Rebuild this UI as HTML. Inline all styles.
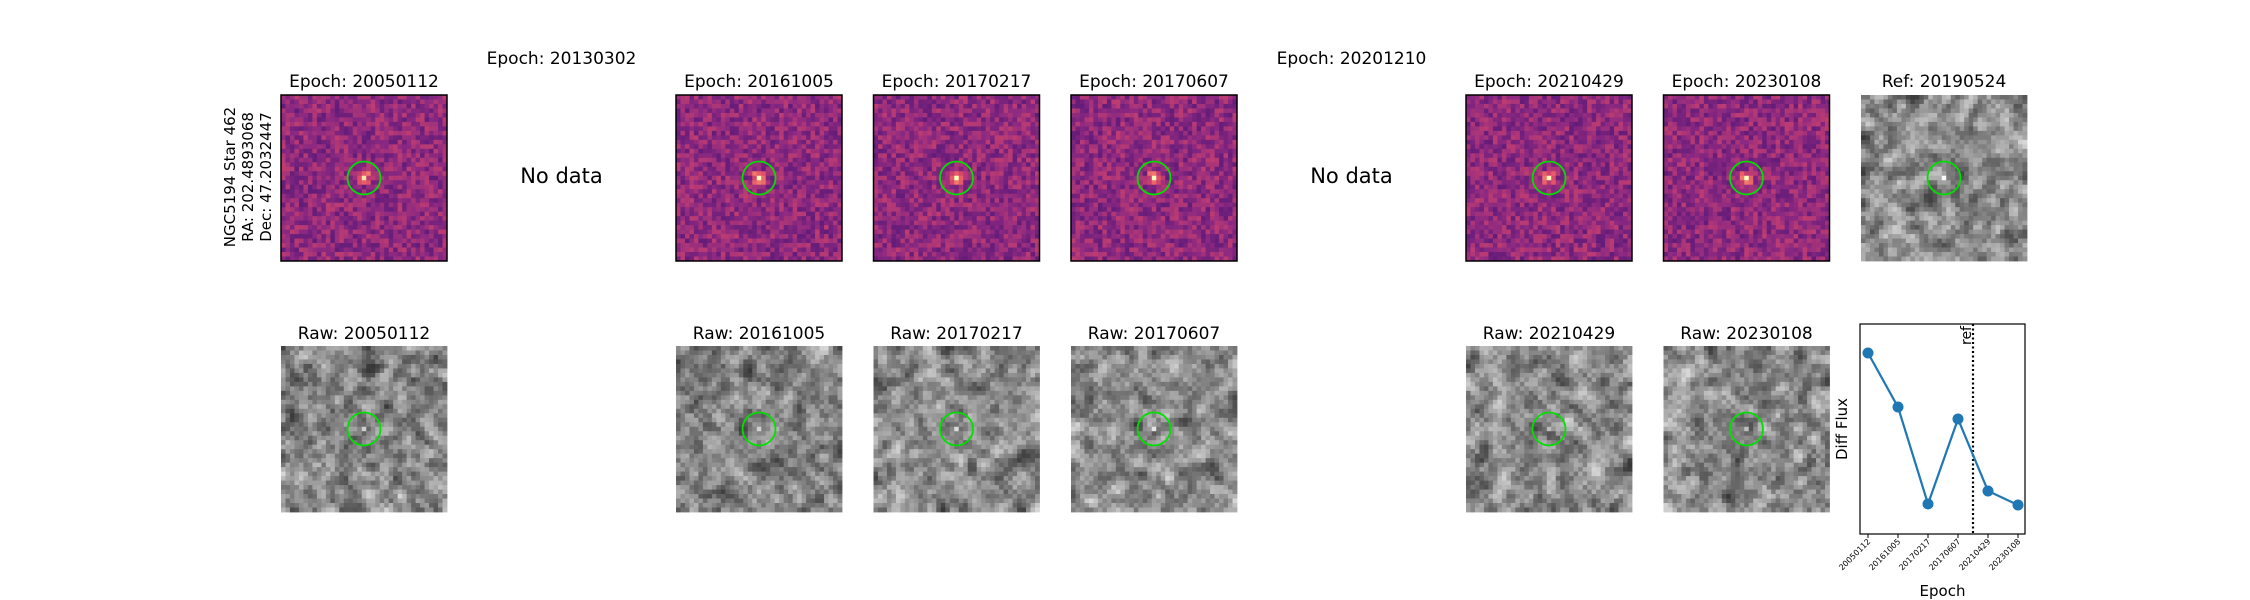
<!DOCTYPE html>
<html><head><meta charset="utf-8"><style>
body{margin:0;background:#fff;}
svg{display:block;font-family:"DejaVu Sans","Liberation Sans",sans-serif;}
</style></head><body>
<svg id="fig" width="2250" height="600" viewBox="0 0 2250 600" xmlns="http://www.w3.org/2000/svg">
<g id="left-label" font-size="15" fill="#000" text-anchor="middle">
<text transform="translate(235,177) rotate(-90)">NGC5194 Star 462</text>
<text transform="translate(253,177) rotate(-90)">RA: 202.4893068</text>
<text transform="translate(271,177) rotate(-90)">Dec: 47.2032447</text>
</g>
<g id="panels"></g>
<g id="chart"></g>
</svg>
<script>
const epochs=["20050112","20161005","20170217","20170607","20210429","20230108"];
const diffFlux=[1.0,0.642,0.0,0.563,0.086,-0.007];
const refIndex=3.5;
const yTickLabels=[];

const NS="http://www.w3.org/2000/svg";
function mk(t,a,p){const e=document.createElementNS(NS,t);for(const k in a)e.setAttribute(k,a[k]);p.appendChild(e);return e;}
let seed=12345;function rnd(){seed=(seed*1103515245+12345)%2147483648;return seed/2147483648;}
const N=37,S=166;
function norm(f){let mn=Math.min(...f),mx=Math.max(...f);return f.map(v=>(v-mn)/(mx-mn));}
function field(blur){let f=[];for(let i=0;i<N*N;i++)f.push(rnd());const raw=f.slice();for(let b=0;b<blur;b++){const g=[];for(let y=0;y<N;y++)for(let x=0;x<N;x++){let s=0,c=0;for(let dy=-1;dy<=1;dy++)for(let dx=-1;dx<=1;dx++){const yy=y+dy,xx=x+dx;if(yy>=0&&yy<N&&xx>=0&&xx<N){s+=f[yy*N+xx];c++;}}g.push(s/c);}f=g;}
if(blur>0){f=norm(f);f=f.map((v,i)=>0.7*v+0.3*raw[i]);}
return norm(f);}
const magma=[[0,0,4],[59,15,112],[140,41,129],[222,73,104],[254,159,109],[252,253,191]];
function cmap(v){v=Math.max(0,Math.min(1,v))*(magma.length-1);const i=Math.min(Math.floor(v),magma.length-2),t=v-i;const a=magma[i],b=magma[i+1];return `rgb(${a.map((c,k)=>Math.round(c+(b[k]-c)*t)).join(',')})`;}
const panels=document.getElementById('panels');
function image(x,y,kind,name){
  const g=mk('g',{},panels);
  
  
  const f=kind==='mag'?field(0):field(1);
  const px=S/N;
  for(let j=0;j<N;j++)for(let i=0;i<N;i++){
    let v=f[j*N+i];const d=Math.hypot(i-18,j-18);
    let col;
    if(kind==='mag'){v=0.3+0.22*v+(d<1?0.6:d<2?0.2:0);col=cmap(v);}
    else{let gv=55+v*160+(d<1?80:0);gv=Math.min(255,Math.round(gv));col=`rgb(${gv},${gv},${gv})`;}
    mk('rect',{x:(x+i*px).toFixed(2),y:(y+j*px).toFixed(2),width:(px+0.4).toFixed(2),height:(px+0.4).toFixed(2),fill:col},g);
  }
  if(kind==='mag')mk('rect',{x:x,y:y,width:S,height:S,fill:'none',stroke:'#000','stroke-width':1.5},g);
  const c=mk('circle',{cx:x+S/2,cy:y+S/2,r:16.5,fill:'none',stroke:'#00e000','stroke-width':1.8},g);
  
  
}
function title(x,y,txt,size,name){const t=mk('text',{x:x,y:y,'font-size':size,'text-anchor':'middle'},panels);t.textContent=txt;
  
  }
const cols=[{t:"20050112"},{t:"20130302",nd:1},{t:"20161005"},{t:"20170217"},{t:"20170607"},{t:"20201210",nd:1},{t:"20210429"},{t:"20230108"}];
cols.forEach((c,i)=>{
  const x=281+i*197.5;
  if(c.nd){title(x+S/2,64,"Epoch: "+c.t,17,'no-data-title');title(x+S/2,183,"No data",21,'no-data-label');return;}
  title(x+S/2,87,"Epoch: "+c.t,17,'epoch-title');
  image(x,95,'mag','diff-image-'+c.t);
  title(x+S/2,339,"Raw: "+c.t,17,'raw-title');
  image(x,346,'grey','raw-image-'+c.t);
});
title(1861+S/2,87,"Ref: 20190524",17,'ref-title');
image(1861,95,'grey','ref-image');

// chart
const ch=document.getElementById('chart');
const L=1860,R=2025,T=324,B=534;
const xs=i=>1868+i*30;
const yMin=-0.199,yMax=1.192;
const ys=v=>B-(v-yMin)/(yMax-yMin)*(B-T);
const ax=mk('rect',{x:L,y:T,width:R-L,height:B-T,fill:'none',stroke:'#000','stroke-width':1.2},ch);


const rl=mk('line',{x1:xs(refIndex),x2:xs(refIndex),y1:T,y2:B,stroke:'#000','stroke-width':2.2,'stroke-dasharray':'2,2.5'},ch);


const rt=mk('text',{transform:`translate(${xs(refIndex)-2},${T+2}) rotate(-90)`,'font-size':14,'text-anchor':'end'},ch);rt.textContent='ref';


const pl=mk('polyline',{points:diffFlux.map((v,i)=>xs(i)+','+ys(v)).join(' '),fill:'none',stroke:'#1f77b4','stroke-width':2.2},ch);


diffFlux.forEach((v,i)=>{
  const p=mk('circle',{cx:xs(i),cy:ys(v),r:5.5,fill:'#1f77b4'},ch);
  
  
});
epochs.forEach((e,i)=>{
  mk('line',{x1:xs(i),x2:xs(i),y1:B,y2:B+4,stroke:'#000','stroke-width':1},ch);
  const t=mk('text',{transform:`translate(${xs(i)+3},${B+8}) rotate(-45)`,'font-size':8,'text-anchor':'end'},ch);t.textContent=e;
  
  
});
const xl=mk('text',{x:(L+R)/2,y:596,'font-size':15,'text-anchor':'middle'},ch);xl.textContent='Epoch';


const yl=mk('text',{transform:`translate(1847,${(T+B)/2}) rotate(-90)`,'font-size':15,'text-anchor':'middle'},ch);yl.textContent='Diff Flux';


</script>
</body></html>
